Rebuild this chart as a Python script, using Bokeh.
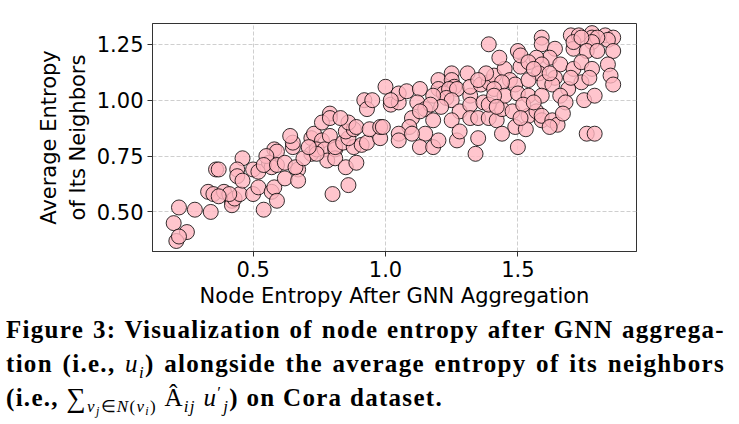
from bokeh.plotting import figure
from bokeh.models import Range1d, FixedTicker, Div
from bokeh.layouts import column
from bokeh.embed import file_html
from bokeh.resources import INLINE

# Node entropy after GNN aggregation (x) and average neighbour entropy (y)
node_entropy = [
    0.22, 0.20, 0.25, 0.21, 0.22, 0.28, 0.34, 0.36, 0.37, 0.33, 0.35, 0.39, 0.42, 0.42, 0.43,
    0.45, 0.41, 0.37, 0.46, 0.44, 0.44, 0.46, 0.50, 0.52, 0.50, 0.52, 0.54, 0.57, 0.58, 0.59,
    0.58, 0.59, 0.56, 0.57, 0.62, 0.67, 0.67, 0.65, 0.65, 0.72, 0.55, 0.54, 0.59, 0.62, 0.66,
    0.64, 0.72, 0.73, 0.76, 0.79, 0.69, 0.74, 0.77, 0.78, 0.81, 0.81, 0.85, 0.89, 0.81, 0.84,
    0.88, 0.91, 0.93, 0.98, 0.86, 0.85, 0.88, 0.86, 0.89, 0.94, 0.98, 0.99, 0.79, 0.76, 0.79,
    0.83, 0.92, 0.93, 0.95, 1.00, 1.02, 1.05, 1.05, 1.08, 1.13, 1.12, 1.15, 1.10, 1.09, 1.18,
    1.05, 1.15, 1.05, 1.13, 1.18, 1.20, 1.27, 0.86, 0.80, 0.74, 0.71, 1.02, 1.20, 1.25, 1.25,
    1.31, 1.26, 1.20, 1.22, 1.24, 1.27, 1.23, 1.18, 1.25, 1.21, 1.17, 1.28, 1.32, 1.32, 1.32,
    1.25, 1.28, 1.32, 1.13, 1.10, 1.35, 1.35, 1.39, 1.42, 1.44, 1.48, 1.49, 1.44, 1.54, 1.53,
    1.37, 1.39, 1.36, 1.39, 1.41, 1.45, 1.51, 1.47, 1.49, 1.44, 1.41, 1.45, 1.50, 1.54, 1.39,
    1.43, 1.50, 1.51, 1.38, 1.35, 1.41, 1.42, 1.52, 1.57, 1.59, 1.51, 1.76, 1.79, 1.34, 1.50,
    1.59, 1.59, 1.70, 1.73, 1.78, 1.83, 1.86, 1.84, 1.78, 1.80, 1.78, 1.71, 1.71, 1.74, 1.76,
    1.80, 1.86, 1.64, 1.62, 1.57, 1.54, 1.59, 1.58, 1.66, 1.71, 1.74, 1.78, 1.84, 1.85, 1.86,
    1.74, 1.77, 1.69, 1.64, 1.60, 1.63, 1.54, 1.66, 1.68, 1.75, 1.79, 1.59, 1.56, 1.59, 1.63,
    1.65, 1.62, 1.56, 1.67, 1.62, 1.70,
]
neighbor_entropy = [
    0.52, 0.45, 0.41, 0.37, 0.39, 0.51, 0.50, 0.69, 0.69, 0.59, 0.58, 0.59, 0.55, 0.53, 0.56,
    0.58, 0.58, 0.57, 0.74, 0.69, 0.66, 0.64, 0.69, 0.68, 0.58, 0.61, 0.51, 0.59, 0.61, 0.55,
    0.78, 0.77, 0.72, 0.70, 0.65, 0.69, 0.64, 0.79, 0.81, 0.76, 0.75, 0.71, 0.71, 0.72, 0.70,
    0.84, 0.83, 0.85, 0.82, 0.84, 0.74, 0.78, 0.78, 0.73, 0.78, 0.74, 0.70, 0.72, 0.79, 0.81,
    0.79, 0.80, 0.81, 0.83, 0.83, 0.86, 0.87, 0.90, 0.88, 0.87, 0.88, 0.88, 0.94, 0.90, 0.92,
    0.92, 1.00, 0.96, 1.00, 1.06, 0.98, 0.99, 1.03, 1.04, 1.05, 0.99, 0.96, 0.92, 0.88, 0.91,
    0.85, 0.85, 0.82, 0.79, 0.79, 0.82, 0.82, 0.62, 0.58, 0.76, 0.79, 1.00, 1.09, 1.12, 1.09,
    1.12, 1.06, 1.05, 1.03, 1.05, 1.05, 1.01, 1.02, 1.00, 0.97, 0.98, 0.95, 1.02, 1.06, 0.98,
    0.91, 0.86, 0.92, 0.95, 0.85, 0.83, 0.92, 0.92, 0.91, 0.96, 0.95, 0.88, 0.85, 0.93, 0.87,
    0.99, 0.98, 1.07, 1.08, 1.11, 1.14, 1.15, 1.09, 1.07, 1.08, 1.05, 1.02, 1.03, 1.02, 1.25,
    1.19, 1.22, 1.20, 1.12, 1.09, 1.02, 0.97, 0.98, 0.95, 0.91, 0.92, 0.85, 0.85, 0.76, 0.79,
    1.28, 1.25, 1.29, 1.29, 1.30, 1.29, 1.28, 1.27, 1.28, 1.28, 1.26, 1.23, 1.26, 1.28, 1.22,
    1.22, 1.22, 1.23, 1.19, 1.19, 1.17, 1.16, 1.12, 1.16, 1.14, 1.17, 1.14, 1.16, 1.11, 1.07,
    1.08, 1.10, 1.05, 1.10, 1.08, 1.07, 1.09, 1.02, 0.99, 1.00, 1.02, 1.02, 0.99, 0.93, 0.91,
    0.89, 1.12, 1.14, 0.94, 0.88, 1.10,
]

x_ticks = [0.5, 1.0, 1.5]
x_tick_labels = ["0.5", "1.0", "1.5"]
y_ticks = [0.5, 0.75, 1.0, 1.25]
y_tick_labels = ["0.50", "0.75", "1.00", "1.25"]

x_label = "Node Entropy After GNN Aggregation"
y_label = "Average Entropy\nof Its Neighbors"

p = figure(width=739, height=310,
           x_range=Range1d(0.12, 1.948), y_range=Range1d(0.323, 1.343),
           output_backend="svg", toolbar_location=None,
           min_border_left=152, min_border_right=103,
           min_border_top=23, min_border_bottom=58)

p.scatter(node_entropy, neighbor_entropy, size=15,
          fill_color="#ffb6c1", fill_alpha=0.8,
          line_color="black", line_alpha=0.8, line_width=1)

p.outline_line_color = "#333333"
p.outline_line_width = 1
p.outline_line_alpha = 1

for ax in (p.xaxis[0], p.yaxis[0]):
    ax.axis_line_color = "#333333"
    ax.major_tick_line_color = "#333333"
    ax.major_tick_out = 5
    ax.major_tick_in = 0
    ax.minor_tick_line_color = None
    ax.major_label_text_font = "DejaVu Sans"
    ax.major_label_text_font_size = "21px"
    ax.major_label_text_font_style = "normal"
    ax.major_label_text_color = "black"
    ax.major_label_standoff = 4
    ax.axis_label_text_font = "DejaVu Sans"
    ax.axis_label_text_font_size = "21px"
    ax.axis_label_text_font_style = "normal"
    ax.axis_label_text_color = "black"
    ax.axis_label_standoff = 4

p.xaxis.ticker = FixedTicker(ticks=x_ticks)
p.xaxis.major_label_overrides = dict(zip(x_ticks, x_tick_labels))
p.yaxis.ticker = FixedTicker(ticks=y_ticks)
p.yaxis.major_label_overrides = dict(zip(y_ticks, y_tick_labels))
p.xaxis.axis_label = x_label
p.yaxis.axis_label = y_label

p.xgrid.ticker = FixedTicker(ticks=x_ticks)
p.ygrid.ticker = FixedTicker(ticks=y_ticks)
for g in (p.xgrid[0], p.ygrid[0]):
    g.grid_line_color = "#cfcfcf"
    g.grid_line_dash = "4 2"
    g.grid_line_width = 1


def run(txt, size=25, top=0, italic=False, bold=False, extra=""):
    style = ("font-size:%dpx; position:relative; top:%dpx; line-height:1; "
             "font-weight:%s; font-style:%s; %s") % (
        size, top, "bold" if bold else "normal", "italic" if italic else "normal", extra)
    return "<span style='%s'>%s</span>" % (style, txt)


line1 = "Figure 3: Visualization of node entropy after GNN aggrega-"
line2 = ("tion (i.e., " + run("u", italic=True) + run("i", 17, 6, italic=True)
         + ") alongside the average entropy of its neighbors")
line3 = ("(i.e., "
         + run("&sum;", 27, 1)
         + run("v", 17, 6, italic=True) + run("j", 12, 9, italic=True)
         + run("&isin;", 17, 6) + run("N", 17, 6, italic=True) + run("(", 17, 6)
         + run("v", 17, 6, italic=True) + run("i", 12, 9, italic=True)
         + run(")", 17, 6)
         + " " + run("&Acirc;") + run("ij", 17, 6, italic=True)
         + run("&nbsp;u", italic=True) + run("&prime;", 17, -8)
         + run("j", 17, 6, italic=True, extra="margin-left:1px;")
         + ") on Cora dataset.")

jl = "text-align:justify; text-align-last:justify;"
caption = Div(
    text=("<div style=\"font-family:'Liberation Serif', serif; font-weight:bold; "
          "font-size:25px; line-height:34px; letter-spacing:1.3px; color:black; width:725px; "
          "padding-left:6px; padding-top:3px;\">"
          "<div style='%s'>%s</div><div style='%s'>%s</div><div>%s</div></div>")
         % (jl, line1, jl, line2, line3),
    width=739, height=114, margin=(0, 0, 0, 0))

layout = column(p, caption, spacing=0)
open("out.html", "w").write(file_html(layout, INLINE))
